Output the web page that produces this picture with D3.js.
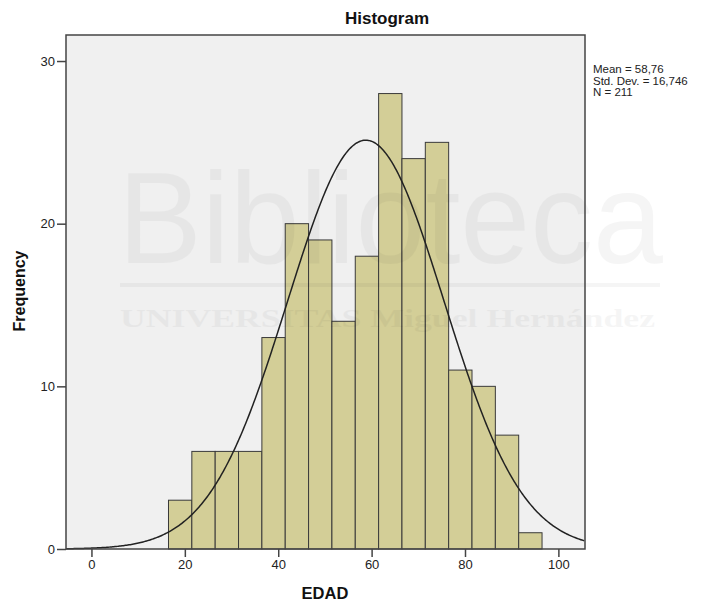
<!DOCTYPE html>
<html>
<head>
<meta charset="utf-8">
<script src="https://cdn.jsdelivr.net/npm/d3@7"></script>
<style>
  body { margin: 0; background: #fff; }
  svg { display: block; font-family: "Liberation Sans", Arial, sans-serif; }
  .axis text { font-size: 13px; fill: #222; }
  .axis line { stroke: #444; stroke-width: 1.5; }
</style>
</head>
<body>
<div id="chart"></div>
<script>
// bin lower edges (EDAD), width 5
var binStarts = [16.5, 21.5, 26.5, 31.5, 36.5, 41.5, 46.5, 51.5, 56.5, 61.5, 66.5, 71.5, 76.5, 81.5, 86.5, 91.5];
var counts = [3, 6, 6, 6, 13, 20, 19, 14, 18, 28, 24, 25, 11, 10, 7, 1];
var binWidth = 5;
var xTicks = [0, 20, 40, 60, 80, 100];
var yTicks = [0, 10, 20, 30];
var stats = { mean: 58.76, sd: 16.746, n: 211 };
var legendLines = ["Mean = 58,76", "Std. Dev. = 16,746", "N = 211"];

var W = 707, H = 604;
var plot = { left: 66, right: 585, top: 35, bottom: 549 };

var svg = d3.select("#chart").append("svg")
  .attr("width", W)
  .attr("height", H);

var x = d3.scaleLinear().domain([-5.45, 105.7]).range([plot.left, plot.right]);
var y = d3.scaleLinear().domain([0, 31.6]).range([plot.bottom, plot.top]);

// plot background
svg.append("rect")
  .attr("x", plot.left).attr("y", plot.top)
  .attr("width", plot.right - plot.left)
  .attr("height", plot.bottom - plot.top)
  .attr("fill", "#f0f0f0");

// bars
svg.selectAll("rect.bar")
  .data(counts)
  .enter()
  .append("rect")
    .attr("class", "bar")
    .attr("x", function(d, i) { return x(binStarts[i]); })
    .attr("width", function(d, i) { return x(binStarts[i] + binWidth) - x(binStarts[i]); })
    .attr("y", function(d) { return y(d); })
    .attr("height", function(d) { return y(0) - y(d); })
    .attr("fill", "#d3ce97")
    .attr("stroke", "#3a3a3a")
    .attr("stroke-width", 1);

// normal curve scaled to counts
var curve = [];
for (var v = -5.45; v <= 105.7; v += 0.25) {
  var z = (v - stats.mean) / stats.sd;
  curve.push([v, stats.n * binWidth / (stats.sd * Math.sqrt(2 * Math.PI)) * Math.exp(-0.5 * z * z)]);
}
svg.append("path")
  .datum(curve)
  .attr("fill", "none")
  .attr("stroke", "#222")
  .attr("stroke-width", 1.5)
  .attr("d", d3.line()
    .x(function(d) { return x(d[0]); })
    .y(function(d) { return y(d[1]); }));

// watermark (faint)
var wm = svg.append("g").attr("opacity", 0.035).attr("fill", "#000");
wm.append("text")
  .attr("x", 118).attr("y", 263)
  .attr("font-size", 130)
  .attr("textLength", 545)
  .attr("lengthAdjust", "spacingAndGlyphs")
  .text("Biblioteca");
wm.append("rect")
  .attr("x", 120).attr("y", 283).attr("width", 540).attr("height", 4);
wm.append("text")
  .attr("x", 120).attr("y", 327)
  .attr("font-size", 26)
  .attr("font-family", "Liberation Serif, serif")
  .attr("font-weight", "bold")
  .attr("textLength", 535)
  .attr("lengthAdjust", "spacingAndGlyphs")
  .text("UNIVERSITAS Miguel Hernández");

// frame
svg.append("rect")
  .attr("x", plot.left).attr("y", plot.top)
  .attr("width", plot.right - plot.left)
  .attr("height", plot.bottom - plot.top)
  .attr("fill", "none")
  .attr("stroke", "#444")
  .attr("stroke-width", 1.5);

// axes
var yAxis = d3.axisLeft(y).tickValues(yTicks).tickSize(9).tickPadding(2);
var xAxis = d3.axisBottom(x).tickValues(xTicks).tickSize(8).tickPadding(3);

svg.append("g")
  .attr("class", "axis")
  .attr("transform", "translate(" + plot.left + ",0)")
  .call(yAxis)
  .call(function(g) { g.select(".domain").remove(); });

svg.append("g")
  .attr("class", "axis")
  .attr("transform", "translate(0," + plot.bottom + ")")
  .call(xAxis)
  .call(function(g) { g.select(".domain").remove(); });

// titles
svg.append("text")
  .attr("x", 387).attr("y", 24)
  .attr("text-anchor", "middle")
  .attr("font-size", 17).attr("font-weight", "bold").attr("fill", "#111")
  .text("Histogram");

svg.append("text")
  .attr("x", 325).attr("y", 599)
  .attr("text-anchor", "middle")
  .attr("font-size", 16.5).attr("font-weight", "bold").attr("fill", "#111")
  .text("EDAD");

svg.append("text")
  .attr("transform", "translate(25,291) rotate(-90)")
  .attr("text-anchor", "middle")
  .attr("font-size", 16).attr("font-weight", "bold").attr("fill", "#111")
  .text("Frequency");

// stats legend
svg.selectAll("text.legend")
  .data(legendLines)
  .enter()
  .append("text")
    .attr("class", "legend")
    .attr("x", 593)
    .attr("y", function(d, i) { return 73 + i * 11.5; })
    .attr("font-size", 11.5)
    .attr("fill", "#222")
    .text(function(d) { return d; });
</script>
</body>
</html>
